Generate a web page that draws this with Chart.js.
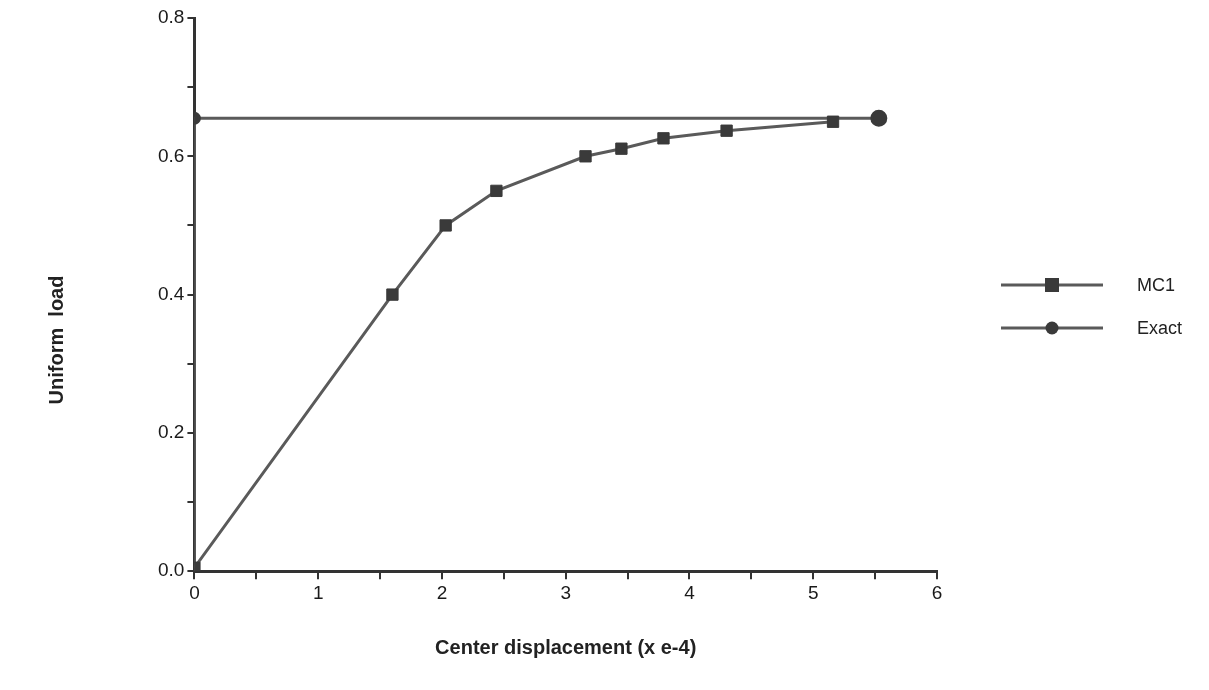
<!DOCTYPE html>
<html>
<head>
<meta charset="utf-8">
<script src="https://cdn.jsdelivr.net/npm/chart.js@4"></script>
<style>
  body { margin: 0; background: #fff; }
  #wrap { width: 1209px; height: 690px; }
</style>
</head>
<body>
<div id="wrap"><canvas id="chart"></canvas></div>
<script>
// --- data ---
const mc1X = [0.0, 1.60, 2.03, 2.44, 3.16, 3.45, 3.79, 4.30, 5.16];
const mc1Y = [0.005, 0.40, 0.50, 0.55, 0.60, 0.611, 0.626, 0.637, 0.650];
const exactX = [0.0, 0.0, 5.53];
const exactY = [0.0, 0.655, 0.655];
const xTicks = [0, 1, 2, 3, 4, 5, 6];
const yTicks = [0.0, 0.2, 0.4, 0.6, 0.8];
const seriesNames = ['MC1', 'Exact'];
const yTitle = 'Uniform  load';

const lineCol = '#5a5a5a';
const markCol = '#3a3a3a';
const font = 'Liberation Sans, Arial, sans-serif';

// legend with line + marker on the right, and the y title (sits lower than centre)
const sideLegend = {
  id: 'sideLegend',
  afterDraw(chart) {
    const ctx = chart.ctx;
    const rows = [{ y: 285, style: 'rect' }, { y: 328, style: 'circle' }];
    ctx.save();
    rows.forEach((r, i) => {
      ctx.strokeStyle = lineCol;
      ctx.lineWidth = 3;
      ctx.beginPath();
      ctx.moveTo(1001, r.y);
      ctx.lineTo(1103, r.y);
      ctx.stroke();
      ctx.fillStyle = markCol;
      if (r.style === 'rect') ctx.fillRect(1045, r.y - 7, 14, 14);
      else { ctx.beginPath(); ctx.arc(1052, r.y, 6.5, 0, Math.PI * 2); ctx.fill(); }
      ctx.fillStyle = '#222';
      ctx.font = '18px ' + font;
      ctx.textBaseline = 'middle';
      ctx.fillText(seriesNames[i], 1137, r.y + 1);
    });
    ctx.translate(57, 340);
    ctx.rotate(-Math.PI / 2);
    ctx.textAlign = 'center';
    ctx.textBaseline = 'middle';
    ctx.font = 'bold 20px ' + font;
    ctx.fillStyle = '#222';
    ctx.fillText(yTitle, 0, 0);
    ctx.restore();
  }
};

new Chart(document.getElementById('chart'), {
  type: 'scatter',
  data: {
    datasets: [
      {
        label: seriesNames[0],
        data: mc1X.map((x, i) => ({ x: x, y: mc1Y[i] })),
        showLine: true,
        borderColor: lineCol,
        borderWidth: 3,
        pointStyle: 'rect',
        pointRadius: 8,
        pointBackgroundColor: markCol,
        pointBorderColor: markCol,
        pointBorderWidth: 1
      },
      {
        label: seriesNames[1],
        data: exactX.map((x, i) => ({ x: x, y: exactY[i] })),
        showLine: true,
        borderColor: lineCol,
        borderWidth: 3,
        pointStyle: 'circle',
        pointRadius: [0, 5, 7],
        pointBackgroundColor: markCol,
        pointBorderColor: markCol
      }
    ]
  },
  options: {
    responsive: true,
    maintainAspectRatio: false,
    animation: false,
    layout: { padding: { left: 155, top: 18, right: 272, bottom: 26 } },
    plugins: { legend: { display: false }, tooltip: { enabled: false } },
    scales: {
      x: {
        type: 'linear',
        min: 0, max: 6,
        border: { color: '#333', width: 3 },
        grid: { drawOnChartArea: false, color: '#333', lineWidth: 2, tickLength: 8 },
        ticks: {
          stepSize: 0.5,
          autoSkip: false,
          color: '#1a1a1a',
          font: { family: font, size: 19 },
          maxRotation: 0,
          callback: v => xTicks.includes(v) ? String(v) : ''
        },
        title: {
          display: true,
          text: 'Center displacement (x e-4)',
          color: '#222',
          font: { family: font, size: 20, weight: 'bold' },
          padding: { top: 28 }
        }
      },
      y: {
        type: 'linear',
        min: 0, max: 0.8,
        border: { color: '#333', width: 3 },
        grid: { drawOnChartArea: false, color: '#333', lineWidth: 2, tickLength: 7 },
        ticks: {
          stepSize: 0.1,
          autoSkip: false,
          color: '#1a1a1a',
          font: { family: font, size: 19 },
          callback: v => {
            const t = yTicks.find(k => Math.abs(k - v) < 1e-6);
            return t !== undefined ? t.toFixed(1) : '';
          }
        }
      }
    }
  },
  plugins: [sideLegend]
});
</script>
</body>
</html>
